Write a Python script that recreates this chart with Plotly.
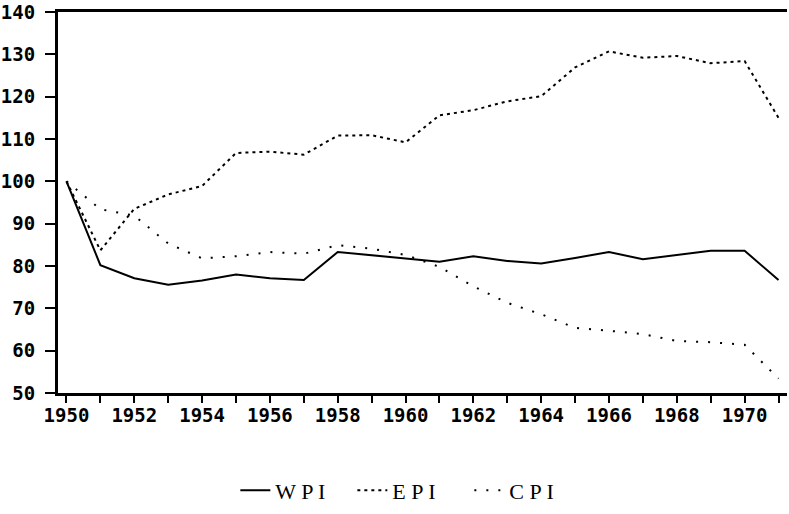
import plotly.graph_objects as go

years = list(range(1950, 1972))

wpi = [100, 80.2, 77.1, 75.6, 76.6, 78.0, 77.1, 76.7, 83.3, 82.6, 81.8,
       81.0, 82.3, 81.2, 80.6, 81.9, 83.3, 81.6, 82.6, 83.6, 83.6, 76.7]
epi = [100, 83.7, 93.5, 96.9, 98.9, 106.7, 107.0, 106.3, 110.8, 110.9, 109.2,
       115.6, 116.8, 118.9, 120.1, 126.9, 130.7, 129.2, 129.6, 127.9, 128.4, 115.0]
cpi = [100, 93.4, 91.9, 85.3, 81.8, 82.3, 83.3, 82.9, 84.9, 84.1, 82.6,
       79.8, 75.2, 71.3, 68.6, 65.4, 64.7, 63.9, 62.3, 62.0, 61.4, 53.4]

series_names = ["W P I", "E P I", "C P I"]
x_ticktext = [str(y) if y % 2 == 0 else "" for y in years]
y_ticks = list(range(50, 150, 10))

fig = go.Figure()
fig.add_trace(go.Scatter(x=years, y=wpi, mode="lines", name=series_names[0],
                         line=dict(color="black", width=2)))
fig.add_trace(go.Scatter(x=years, y=epi, mode="lines", name=series_names[1],
                         line=dict(color="black", width=2, dash="3px,4px")))
fig.add_trace(go.Scatter(x=years, y=cpi, mode="lines", name=series_names[2],
                         line=dict(color="black", width=2, dash="2px,10px")))

fig.update_layout(
    width=789, height=514,
    margin=dict(l=58, r=2, t=12, b=116),
    plot_bgcolor="white", paper_bgcolor="white",
    showlegend=True,
    legend=dict(orientation="h", x=0.484, xanchor="center", y=-0.256, yanchor="middle",
                font=dict(family="Liberation Serif", size=22, color="black"),
                entrywidth=72, itemwidth=30),
    xaxis=dict(range=[1949.75, 1971.25], tickvals=years, ticktext=x_ticktext,
               ticks="outside", ticklen=7, tickwidth=2, tickcolor="black",
               ticklabelstandoff=-4,
               showline=True, linewidth=3, linecolor="black", mirror=True,
               showgrid=False, zeroline=False, automargin=False,
               tickfont=dict(family="DejaVu Sans Mono", size=19, color="black", weight="bold")),
    yaxis=dict(range=[50, 140], tickvals=y_ticks,
               ticks="outside", ticklen=10, tickwidth=2, tickcolor="black",
               ticklabelstandoff=6,
               showline=True, linewidth=3, linecolor="black",
               showgrid=False, zeroline=False, automargin=False,
               tickfont=dict(family="DejaVu Sans Mono", size=19, color="black", weight="bold")),
)

# drop the page's default body margin so the figure sits at the window corner
fig.write_html("out.html", config={"displayModeBar": False},
               post_script="document.body.style.margin='0';")
